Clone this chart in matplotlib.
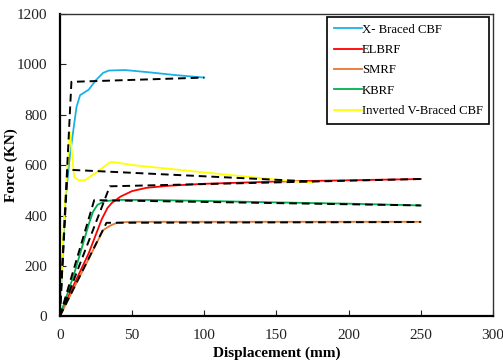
import numpy as np
import matplotlib
matplotlib.use('Agg')
import matplotlib.pyplot as plt

plt.rcParams['font.family'] = ['Liberation Serif', 'DejaVu Serif']

# pushover curves (displacement mm, force kN)
x_braced_d = [0, 2, 4, 7, 11.5, 14, 20, 25, 30, 34, 45, 60, 80, 100]
x_braced_f = [0, 250, 470, 640, 830, 878, 900, 938, 967, 976, 978, 970, 958, 948]

elbrf_d = [0, 6, 20, 29, 33, 36, 42, 50, 60, 75, 100, 150, 200, 250]
elbrf_f = [0, 80, 250, 385, 430, 450, 475, 497, 510, 518, 526, 535, 540, 545]

smrf_d = [0, 10, 20, 30, 35, 40, 50, 100, 150, 200, 250]
smrf_f = [0, 115, 228, 342, 360, 372, 375, 375, 375, 375, 375]

kbrf_d = [0, 10, 20, 23, 26, 31, 40, 60, 100, 150, 200, 250]
kbrf_f = [0, 170, 365, 415, 442, 457, 462, 462, 458, 452, 447, 440]

inv_v_d = [0, 3, 6.9, 8.5, 9.9, 13, 17.3, 25, 33.5, 36, 51, 97, 132, 157, 175.5]
inv_v_f = [0, 400, 732, 640, 553, 540, 540, 570, 607, 613, 600, 573, 553, 538, 530]

# bilinear idealisations (dashed)
bil_x_d = [0, 8, 100]
bil_x_f = [0, 931, 948]
bil_el_d = [0, 34.6, 250]
bil_el_f = [0, 516, 545]
bil_sm_d = [0, 32.3, 250]
bil_sm_f = [0, 371, 374]
bil_kb_d = [0, 23.8, 250]
bil_kb_f = [0, 461, 440]
bil_iv_d = [0, 5.3, 175]
bil_iv_f = [0, 582, 535]

fig = plt.figure(figsize=(5.03, 3.63), dpi=100)
ax = fig.add_axes([0.119, 0.129, 0.861, 0.832])

lw = 1.3
ax.plot(x_braced_d, x_braced_f, color='#1CB0E8', lw=lw, label='X- Braced CBF')
ax.plot(elbrf_d, elbrf_f, color='#FF0000', lw=lw, label='ELBRF')
ax.plot(smrf_d, smrf_f, color='#E8762D', lw=lw, label='SMRF')
ax.plot(kbrf_d, kbrf_f, color='#00B050', lw=lw, label='KBRF')
ax.plot(inv_v_d, inv_v_f, color='#FFFF00', lw=lw, label='Inverted V-Braced CBF')

for d, f in [(bil_x_d, bil_x_f), (bil_el_d, bil_el_f), (bil_sm_d, bil_sm_f),
             (bil_kb_d, bil_kb_f), (bil_iv_d, bil_iv_f)]:
    ax.plot(d, f, color='black', lw=1.4, ls=(0, (4, 2.5)))

ax.set_xlim(0, 300)
ax.set_ylim(0, 1200)
ax.set_xticks(np.arange(0, 301, 50))
ax.set_yticks(np.arange(0, 1201, 200))
ax.tick_params(direction='in', length=4, width=0.8, labelsize=11, pad=9, colors='#222222')

for s in ['left', 'bottom']:
    ax.spines[s].set_linewidth(1.6)
    ax.spines[s].set_color('black')
for s in ['top', 'right']:
    ax.spines[s].set_linewidth(1.0)
    ax.spines[s].set_color('#333333')

ax.set_xlabel('Displacement (mm)', fontsize=11, fontweight='bold')
ax.xaxis.set_label_coords(0.5, -0.1)
ax.set_ylabel('Force (KN)', fontsize=11, fontweight='bold')
ax.yaxis.set_label_coords(-0.097, 0.5)

leg = ax.legend(loc='upper right', bbox_to_anchor=(0.991, 0.990), borderaxespad=0,
                fontsize=9.2, handlelength=2.2, handletextpad=0.0, labelspacing=0.66,
                fancybox=False, framealpha=1, edgecolor='black', borderpad=0.5)
leg.get_frame().set_linewidth(1.2)

fig.savefig('out.png', dpi=100)
